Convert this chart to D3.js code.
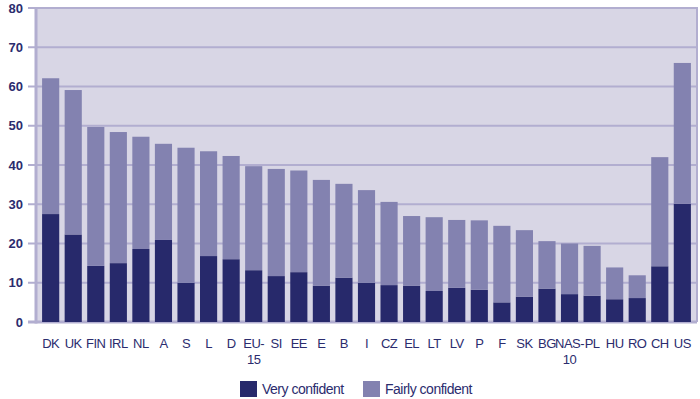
<!DOCTYPE html>
<html>
<head>
<meta charset="utf-8">
<script src="https://cdn.jsdelivr.net/npm/d3@7"></script>
<style>
	body { margin: 0; background: #fff; }
	svg text { font-family: "Liberation Sans", Arial, sans-serif; fill: #2b2c6e; }
</style>
</head>
<body>
<div id="chart"></div>
<script>
// stacked bars: very + fairly confident
const countries = ['DK','UK','FIN','IRL','NL','A','S','L','D','EU-15','SI','EE','E','B','I','CZ','EL','LT','LV','P','F','SK','BG','NAS-10','PL','HU','RO','CH','US'];
const veryConfident = [27.5,22.3,14.3,15.0,18.6,20.9,10.0,16.8,16.0,13.2,11.7,12.7,9.2,11.3,10.0,9.4,9.2,7.9,8.7,8.2,5.0,6.4,8.5,7.1,6.7,5.8,6.1,14.2,30.1];
const totalConfident = [62.1,59.1,49.7,48.4,47.2,45.4,44.4,43.5,42.3,39.7,39.0,38.6,36.2,35.2,33.6,30.6,27.0,26.7,26.0,25.9,24.5,23.4,20.6,20.0,19.4,13.9,11.9,42.0,66.0];
const fairlyConfident = totalConfident.map((t, i) => +(t - veryConfident[i]).toFixed(1));
const yTicks = [0,10,20,30,40,50,60,70,80];
const seriesNames = ['Very confident', 'Fairly confident'];

const width = 700, height = 399;
const m = {top: 8, right: 3, bottom: 77, left: 36};
const colors = ['#27296b', '#8382b0'];
const gridColor = '#b2aed0';

const data = countries.map((c, i) => ({country: c, very: veryConfident[i], fairly: fairlyConfident[i]}));

const svg = d3.select('#chart').append('svg')
	.attr('width', width)
	.attr('height', height);

const x = d3.scaleBand()
	.domain(countries)
	.range([m.left, width - m.right])
	.paddingInner(0.24)
	.paddingOuter(0.27);

const y = d3.scaleLinear()
	.domain([0, 80])
	.range([height - m.bottom, m.top]);

// plot background
svg.append('rect')
	.attr('x', m.left)
	.attr('y', m.top)
	.attr('width', width - m.left - m.right)
	.attr('height', height - m.top - m.bottom)
	.attr('fill', '#d8d6e5');

// gridlines + tick stubs
svg.append('g')
	.selectAll('line')
	.data(yTicks)
	.join('line')
		.attr('x1', m.left - 8)
		.attr('x2', width - m.right)
		.attr('y1', d => y(d))
		.attr('y2', d => y(d))
		.attr('stroke', gridColor)
		.attr('stroke-width', d => d === 0 ? 3 : 2);

// right frame
svg.append('line')
	.attr('x1', width - m.right).attr('x2', width - m.right)
	.attr('y1', m.top - 1).attr('y2', y(0))
	.attr('stroke', gridColor).attr('stroke-width', 2);

// left axis line
svg.append('line')
	.attr('x1', m.left).attr('x2', m.left)
	.attr('y1', m.top - 1).attr('y2', y(0) + 1.5)
	.attr('stroke', gridColor).attr('stroke-width', 3);

svg.append('g')
	.selectAll('text')
	.data(yTicks)
	.join('text')
		.attr('x', m.left - 13)
		.attr('y', d => y(d))
		.attr('dy', '0.35em')
		.attr('text-anchor', 'end')
		.style('font-size', '13px')
		.style('font-weight', 'bold')
		.text(d => d);

// stacked bars
const stack = d3.stack().keys(['very', 'fairly']);
const layers = stack(data);

svg.append('g')
	.selectAll('g')
	.data(layers)
	.join('g')
		.attr('fill', (d, i) => colors[i])
	.selectAll('rect')
	.data(d => d)
	.join('rect')
		.attr('x', d => x(d.data.country))
		.attr('width', x.bandwidth())
		.attr('y', d => y(d[1]))
		.attr('height', d => y(d[0]) - y(d[1]));

// category labels (split at hyphen into two lines)
const xl = svg.append('g')
	.selectAll('text')
	.data(countries)
	.join('text')
		.attr('x', d => x(d) + x.bandwidth() / 2)
		.attr('y', 348)
		.attr('text-anchor', 'middle')
		.style('font-size', '13px')
		.style('letter-spacing', '-0.5px');

xl.each(function(d) {
	const t = d3.select(this);
	const parts = d === 'NAS-10' ? ['NAS-', '10'] : d === 'EU-15' ? ['EU-', '15'] : [d];
	parts.forEach((p, i) => {
		t.append('tspan')
			.attr('x', x(d) + x.bandwidth() / 2)
			.attr('dy', i === 0 ? 0 : 16)
			.text(p);
	});
});

// legend
const legend = svg.append('g').attr('transform', 'translate(240,381)');
const legendX = [0, 123];
seriesNames.forEach((name, i) => {
	const g = legend.append('g').attr('transform', 'translate(' + legendX[i] + ',0)');
	g.append('rect')
		.attr('width', 17).attr('height', 16)
		.attr('fill', colors[i]);
	g.append('text')
		.attr('x', 22).attr('y', 8)
		.attr('dy', '0.35em')
		.style('font-size', '14px')
		.style('letter-spacing', '-0.5px')
		.text(name);
});
</script>
</body>
</html>
